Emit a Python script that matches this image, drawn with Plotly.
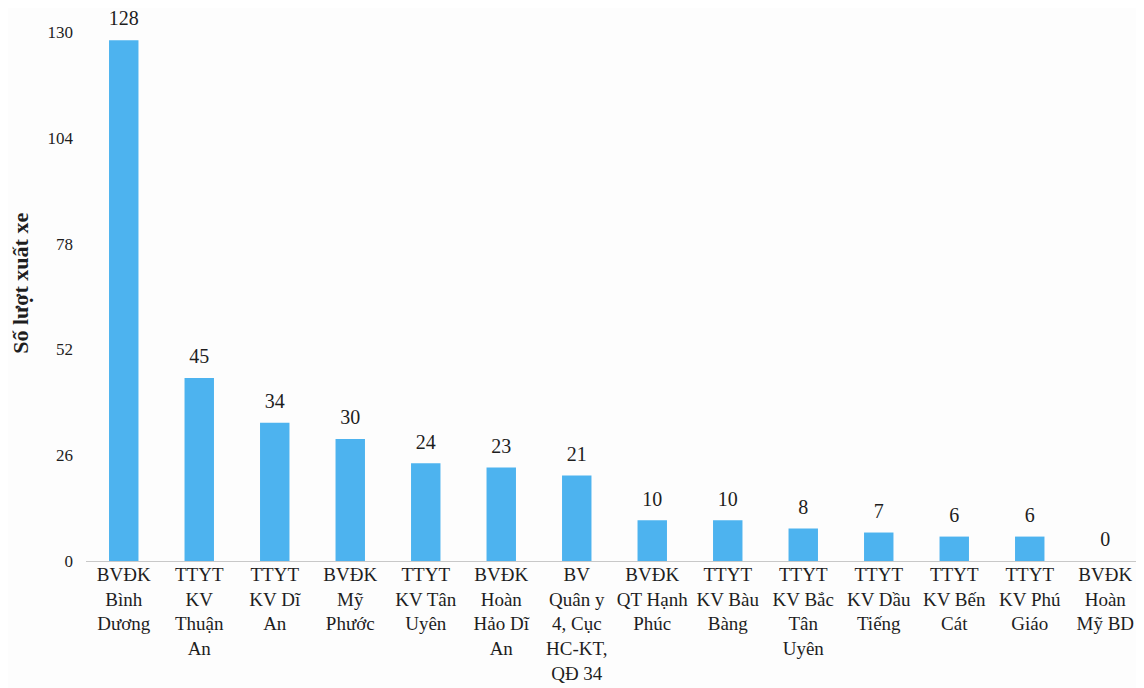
import plotly.graph_objects as go

categories = [
    "BVĐK<br>Bình<br>Dương", "TTYT<br>KV<br>Thuận<br>An", "TTYT<br>KV Dĩ<br>An",
    "BVĐK<br>Mỹ<br>Phước", "TTYT<br>KV Tân<br>Uyên", "BVĐK<br>Hoàn<br>Hảo Dĩ<br>An",
    "BV<br>Quân y<br>4, Cục<br>HC-KT,<br>QĐ 34", "BVĐK<br>QT Hạnh<br>Phúc",
    "TTYT<br>KV Bàu<br>Bàng", "TTYT<br>KV Bắc<br>Tân<br>Uyên", "TTYT<br>KV Dầu<br>Tiếng",
    "TTYT<br>KV Bến<br>Cát", "TTYT<br>KV Phú<br>Giáo", "BVĐK<br>Hoàn<br>Mỹ BD",
]
values = [128, 45, 34, 30, 24, 23, 21, 10, 10, 8, 7, 6, 6, 0]
y_ticks = [0, 26, 52, 78, 104, 130]
y_title = "Số lượt xuất xe"

xs = list(range(len(categories)))
fig = go.Figure()
fig.add_trace(go.Bar(
    x=xs, y=values,
    marker=dict(color="#4db3ef", line=dict(width=0)),
    hoverinfo="skip",
))
fig.add_trace(go.Scatter(
    x=xs, y=values, mode="markers+text",
    marker=dict(size=14, opacity=0),
    text=[str(v) for v in values], textposition="top center",
    textfont=dict(family="Liberation Serif", size=20, color="#1e1e1e"),
    cliponaxis=False,
))

fig.update_layout(
    width=1136, height=680,
    paper_bgcolor="#fdfdfd", plot_bgcolor="rgba(0,0,0,0)",
    margin=dict(l=78, r=1, t=24, b=127),
    bargap=0.61, showlegend=False,
    font=dict(family="Liberation Serif", color="#1e1e1e"),
    annotations=[dict(
        text="<b>" + y_title + "</b>", textangle=-90,
        xref="paper", yref="paper", x=-0.062, y=0.525,
        xanchor="center", yanchor="middle", showarrow=False,
        font=dict(size=22, color="#1e1e1e"),
    )],
)
fig.update_xaxes(
    tickvals=xs, ticktext=categories,
    range=[-0.5, len(categories) - 0.5],
    tickfont=dict(size=19, color="#1e1e1e"), showgrid=False, zeroline=False,
    showline=False, ticks="", tickangle=0, automargin=False,
)
fig.update_yaxes(
    range=[0, 130], tickvals=y_ticks, showgrid=False,
    zeroline=True, zerolinecolor="#c8c8c8", zerolinewidth=1,
    tickfont=dict(size=17, color="#1e1e1e"), ticks="", ticklabelstandoff=12,
    automargin=False,
)
fig.write_html("out.html")
